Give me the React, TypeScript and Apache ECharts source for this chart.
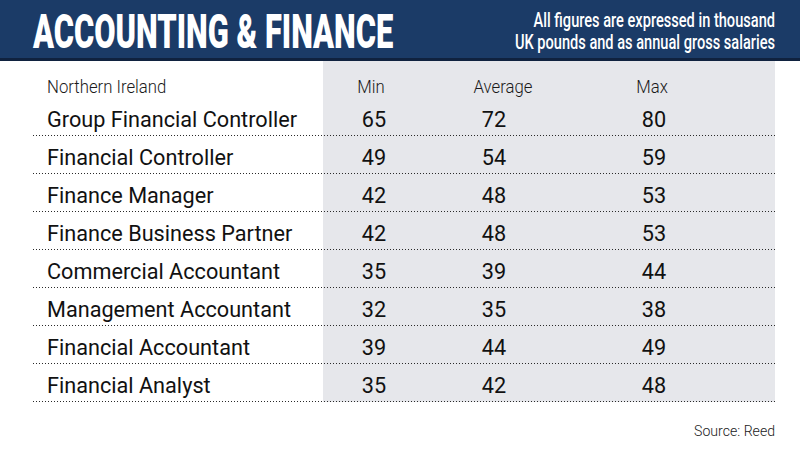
import React, { useEffect, useRef } from 'react';
import * as echarts from 'echarts';

const title = 'ACCOUNTING & FINANCE';
const noteLines = ['All figures are expressed in thousand', 'UK pounds and as annual gross salaries'];
const region = 'Northern Ireland';
const columns = ['Min', 'Average', 'Max'];
const roles = [
  'Group Financial Controller',
  'Financial Controller',
  'Finance Manager',
  'Finance Business Partner',
  'Commercial Accountant',
  'Management Accountant',
  'Financial Accountant',
  'Financial Analyst',
];
const minSalary = [65, 49, 42, 42, 35, 32, 39, 35];
const avgSalary = [72, 54, 48, 48, 39, 35, 44, 42];
const maxSalary = [80, 59, 53, 53, 44, 38, 49, 48];
const source = 'Source: Reed';

const FONT = 'Roboto';
const L = {
  left: 33,
  right: 775,
  panelX: 323,
  panelTop: 61,
  roleX: 47,
  colX: [374, 494, 654],
  headX: [371, 503, 652],
  headY: 87,
  textDy: 2,
  roleScale: 0.985,
  titleScale: 0.63,
  noteScale: 0.73,
  headScale: 0.93,
  srcScale: 0.94,
};

function txt(o: any) {
  const s = o.style;
  if (s.textAlign) s.align = s.textAlign;
  if (s.textVerticalAlign) s.verticalAlign = s.textVerticalAlign;
  return o;
}

export default function App() {
  const ref = useRef<HTMLDivElement>(null);
  useEffect(() => {
    if (!ref.current) return;
    const chart = echarts.init(ref.current, undefined, { renderer: 'svg' });
    const data = roles.map((_, i) => [i, minSalary[i], avgSalary[i], maxSalary[i]]);
    const option: any = {
      animation: false,
      backgroundColor: '#ffffff',
      grid: { left: 0, right: 0, top: 98, bottom: 48 },
      xAxis: { type: 'value', min: 0, max: 800, show: false },
      yAxis: { type: 'category', data: roles, inverse: true, show: false },
      graphic: [
        { type: 'rect', z: 0, shape: { x: 0, y: 0, width: 800, height: 58 }, style: { fill: '#1b3b67' } },
        { type: 'rect', z: 0, shape: { x: 0, y: 58, width: 800, height: 3 }, style: { fill: '#10223f' } },
        {
          type: 'rect', z: 0,
          shape: { x: L.panelX, y: L.panelTop, width: L.right - L.panelX, height: 402 - L.panelTop },
          style: { fill: '#e6e7eb' },
        },
        txt({
          type: 'text', z: 5, x: L.left, y: 31, scaleX: L.titleScale,
          style: { text: title, fontFamily: FONT, fontSize: 49, fontWeight: 900, fill: '#ffffff', textAlign: 'left', textVerticalAlign: 'middle' },
        }),
        ...noteLines.map((t, k) =>
          txt({
            type: 'text', z: 5, x: L.right, y: 20 + k * 22, scaleX: L.noteScale,
            style: { text: t, fontFamily: FONT, fontSize: 20, fontWeight: 500, fill: '#ffffff', textAlign: 'right', textVerticalAlign: 'middle' },
          })
        ),
        txt({
          type: 'text', z: 5, x: L.roleX, y: L.headY, scaleX: L.headScale,
          style: { text: region, fontFamily: FONT, fontSize: 18, fontWeight: 300, fill: '#1a1a1a', textAlign: 'left', textVerticalAlign: 'middle' },
        }),
        ...columns.map((c, k) =>
          txt({
            type: 'text', z: 5, x: L.headX[k], y: L.headY, scaleX: L.headScale,
            style: { text: c, fontFamily: FONT, fontSize: 18, fontWeight: 300, fill: '#1a1a1a', textAlign: 'center', textVerticalAlign: 'middle' },
          })
        ),
        txt({
          type: 'text', z: 5, x: L.right, y: 431, scaleX: L.srcScale,
          style: { text: source, fontFamily: FONT, fontSize: 15, fontWeight: 300, fill: '#1a1a1a', textAlign: 'right', textVerticalAlign: 'middle' },
        }),
      ],
      series: [
        {
          type: 'custom',
          z: 10,
          encode: { x: 1, y: 0 },
          data,
          renderItem: (params: any, api: any) => {
            const i = api.value(0);
            const yc = api.coord([0, i])[1];
            const h = api.size([0, 1])[1];
            const yb = Math.round(yc + h / 2) - 0.5;
            const vals = [api.value(1), api.value(2), api.value(3)];
            return {
              type: 'group',
              children: [
                {
                  type: 'line',
                  shape: { x1: L.left, y1: yb, x2: L.right, y2: yb },
                  style: { stroke: '#2a2a2a', lineWidth: 1, lineDash: [1, 2] },
                },
                txt({
                  type: 'text', x: L.roleX, y: yc + L.textDy, scaleX: L.roleScale,
                  style: { text: roles[i], fontFamily: FONT, fontSize: 22, fontWeight: 400, fill: '#111111', textAlign: 'left', textVerticalAlign: 'middle' },
                }),
                ...vals.map((v: number, k: number) =>
                  txt({
                    type: 'text', x: L.colX[k], y: yc + L.textDy, scaleX: L.roleScale,
                    style: { text: String(v), fontFamily: FONT, fontSize: 22, fontWeight: 400, fill: '#111111', textAlign: 'center', textVerticalAlign: 'middle' },
                  })
                ),
              ],
            };
          },
        },
      ],
    };
    chart.setOption(option);
    return () => chart.dispose();
  }, []);
  return <div ref={ref} style={{ position: 'fixed', left: 0, top: 0, width: 800, height: 450 }} />;
}
